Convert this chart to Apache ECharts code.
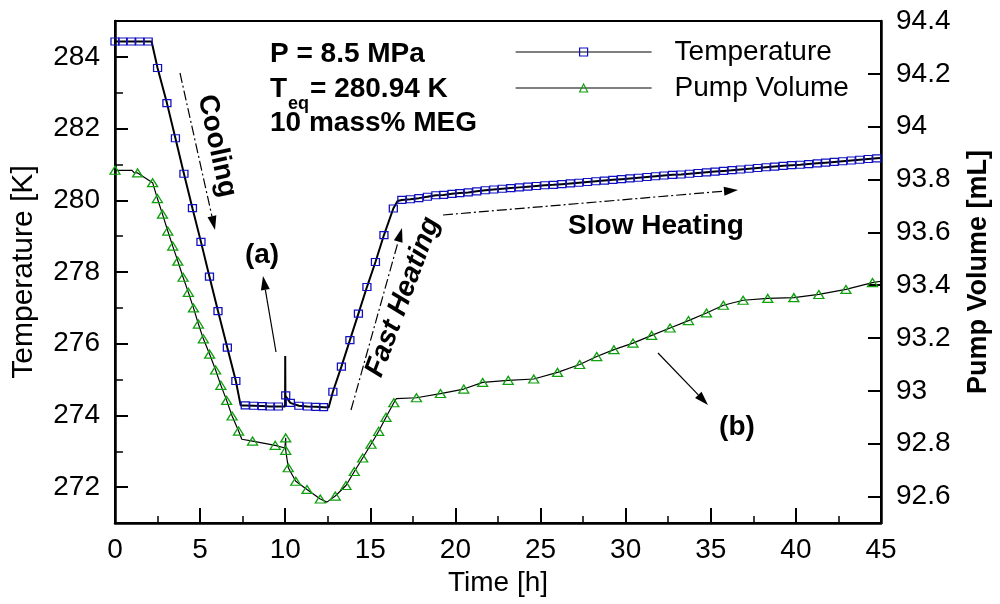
<!DOCTYPE html>
<html><head><meta charset="utf-8">
<script src="https://cdn.jsdelivr.net/npm/echarts@6/dist/echarts.min.js"></script>
<style>html,body{margin:0;padding:0;background:#fff}#c{width:1000px;height:604px}</style>
</head><body><div id="c"></div>
<script>
// ---- Data ----
const xTicks = [0, 5, 10, 15, 20, 25, 30, 35, 40, 45];
const leftTicks = [272, 274, 276, 278, 280, 282, 284];
const leftMinorTicks = [273, 275, 277, 279, 281, 283];
const rightTicks = [92.6, 92.8, 93.0, 93.2, 93.4, 93.6, 93.8, 94.0, 94.2, 94.4];

// Temperature markers (h, K)
const tempTime = [0, 0.45, 0.95, 1.45, 1.95, 2.5, 3.05, 3.55, 4.05, 4.55, 5.05, 5.55, 6.05, 6.6, 7.1,
  7.65, 8.15, 8.65, 9.1, 9.6, 10.03, 10.3, 10.8, 11.3, 11.8, 12.25, 12.8, 13.3, 13.8, 14.3, 14.8,
  15.3, 15.8, 16.35, 16.85, 17.35, 17.85, 18.35, 18.85, 19.3, 19.8, 20.25, 20.75, 21.25,
  21.75, 22.25, 22.75, 23.25, 23.75, 24.25, 24.75, 25.25, 25.75, 26.25, 26.75, 27.25, 27.75,
  28.25, 28.75, 29.25, 29.75, 30.25, 30.75, 31.25, 31.75, 32.25, 32.75, 33.25, 33.75, 34.25,
  34.75, 35.25, 35.75, 36.25, 36.75, 37.25, 37.75, 38.25, 38.75, 39.25, 39.75, 40.25, 40.75,
  41.25, 41.75, 42.25, 42.75, 43.25, 43.75, 44.25, 44.75];
const tempK = [284.43, 284.43, 284.43, 284.43, 284.43, 283.69, 282.71, 281.73, 280.74, 279.78,
  278.84, 277.87, 276.91, 275.89, 274.96, 274.28, 274.27, 274.26, 274.25, 274.25, 274.56, 274.35,
  274.27, 274.25, 274.24, 274.23, 274.66, 275.36, 276.10, 276.84, 277.58, 278.28, 279.03, 279.77,
  280.01, 280.03, 280.06, 280.10, 280.14, 280.15, 280.18, 280.20, 280.22, 280.25,
  280.28, 280.30, 280.32, 280.34, 280.36, 280.38, 280.40, 280.42, 280.43, 280.45, 280.47, 280.49,
  280.51, 280.53, 280.55, 280.57, 280.59, 280.61, 280.63, 280.65, 280.67, 280.69, 280.71, 280.72,
  280.74, 280.76, 280.78, 280.80, 280.82, 280.84, 280.86, 280.88, 280.90, 280.92, 280.94, 280.96,
  280.98, 280.99, 281.01, 281.03, 281.05, 281.07, 281.09, 281.11, 281.13, 281.15, 281.17];
// Temperature line points without markers (knees, spike at t = 10 h, end)
const tempLineTime = [2.15, 7.38, 9.99, 10.0, 10.01, 12.55, 16.6, 45];
const tempLineK = [284.43, 274.28, 274.25, 275.66, 274.55, 274.22, 279.98, 281.18];

// Pump volume markers (h, mL)
const pumpTime = [0, 1.33, 2.21, 2.49, 2.79, 3.1, 3.39, 3.69, 4.0, 4.31, 4.61, 4.9, 5.19, 5.56,
  5.91, 6.22, 6.56, 6.88, 7.26, 8.08, 9.41, 10.03, 10.03, 10.18, 10.62, 11.28, 12.06, 12.94,
  13.57, 14.06, 14.55, 15.04, 15.49, 15.92, 16.38, 17.71, 19.12, 20.49, 21.6, 23.1, 24.6, 26.0,
  27.3, 28.3, 29.31, 30.43, 31.53, 32.61, 33.69, 34.75, 35.74, 36.9, 38.35, 39.88, 41.35, 42.94, 44.5];
const pumpVol = [93.835, 93.825, 93.788, 93.728, 93.669, 93.605, 93.548, 93.491, 93.430, 93.373,
  93.314, 93.253, 93.197, 93.139, 93.079, 93.021, 92.964, 92.905, 92.848, 92.810, 92.794, 92.822,
  92.775, 92.709, 92.658, 92.627, 92.591, 92.602, 92.642, 92.695, 92.746, 92.798, 92.847, 92.900,
  92.955, 92.974, 92.990, 93.007, 93.032, 93.040, 93.045, 93.070, 93.100, 93.130, 93.156, 93.181,
  93.210, 93.238, 93.266, 93.295, 93.324, 93.343, 93.350, 93.353, 93.365, 93.384, 93.410];
const pumpLineTime = [1.0, 1.12, 7.45, 9.98, 12.45, 16.53, 45];
const pumpLineVol = [93.835, 93.826, 92.817, 92.784, 92.579, 92.971, 93.415];

// ---- Build series data ----
function build(mt, mv, lt, lv) {
  const pts = [];
  mt.forEach((t, i) => pts.push({ value: [t, mv[i]] }));
  lt.forEach((t, i) => pts.push({ value: [t, lv[i]], symbol: 'none' }));
  pts.sort((a, b) => a.value[0] - b.value[0]);
  return pts;
}
const tempData = build(tempTime, tempK, tempLineTime, tempLineK);
const pumpData = build(pumpTime, pumpVol, pumpLineTime, pumpLineVol);

const FONT = 'Liberation Sans, Arial, sans-serif';
const FS = 28;

function arrow(x1, y1, x2, y2, dashed) {
  const L = 14, W = 4.5;
  const dx = x2 - x1, dy = y2 - y1, d = Math.hypot(dx, dy), ux = dx / d, uy = dy / d;
  const bx = x2 - ux * L, by = y2 - uy * L;
  return [
    { type: 'line', shape: { x1: x1, y1: y1, x2: bx, y2: by },
      style: { stroke: '#000', lineWidth: 1.2, lineDash: dashed ? [10, 3, 2, 3] : null } },
    { type: 'polygon', shape: { points: [[x2, y2], [bx - uy * W, by + ux * W], [bx + uy * W, by - ux * W]] },
      style: { fill: '#000' } }
  ];
}
function txt(x, y, s, opt) {
  opt = opt || {};
  return { type: 'text', x: x, y: y, rotation: opt.rot || 0, z: 100,
    style: { text: s, fill: '#000', fontFamily: FONT, fontSize: opt.fs || FS, fontWeight: opt.w || 'bold',
      fontStyle: opt.it ? 'italic' : 'normal', align: opt.align || 'center', verticalAlign: 'middle' } };
}

const chart = echarts.init(document.getElementById('c'));
chart.setOption({
  animation: false,
  backgroundColor: '#fff',
  grid: { left: 115, right: 119, top: 21, bottom: 81, show: true, borderColor: '#000', borderWidth: 2 },
  legend: {
    left: 515, top: 37, orient: 'vertical', padding: 0,
    itemWidth: 136, itemHeight: 10, itemGap: 6,
    lineStyle: { width: 1.2 },
    itemStyle: { borderWidth: 1.2 },
    textStyle: { fontFamily: FONT, fontSize: FS, color: '#000', lineHeight: 30, padding: [0, 0, 0, 18] },
    data: ['Temperature', 'Pump Volume']
  },
  xAxis: {
    type: 'value', min: 0, max: 45, interval: 5,
    name: 'Time [h]', nameLocation: 'middle', nameGap: 40,
    nameTextStyle: { fontFamily: FONT, fontSize: FS, color: '#000' },
    axisLine: { lineStyle: { color: '#000', width: 2.5 } },
    axisTick: { inside: true, length: 15, lineStyle: { color: '#000', width: 2 } },
    minorTick: { show: true, splitNumber: 2, length: 7, lineStyle: { color: '#000', width: 1.5 } },
    axisLabel: { fontFamily: FONT, fontSize: FS, color: '#000', margin: 13 },
    splitLine: { show: false }
  },
  yAxis: [
    {
      type: 'value', position: 'left', min: 271, max: 285,
      name: 'Temperature [K]', nameLocation: 'middle', nameGap: 76, nameRotate: 90,
      nameTextStyle: { fontFamily: FONT, fontSize: 30, color: '#000' },
      axisLine: { show: true, lineStyle: { color: '#000', width: 2.5 } },
      axisTick: { inside: true, length: 13, customValues: leftTicks, lineStyle: { color: '#000', width: 2 } },
      axisLabel: { customValues: leftTicks, fontFamily: FONT, fontSize: FS, color: '#000', margin: 15 },
      splitLine: { show: false }
    },
    {
      type: 'value', position: 'right', min: 92.5, max: 94.4,
      name: 'Pump Volume [mL]', nameLocation: 'middle', nameGap: 84, nameRotate: 90,
      nameTextStyle: { fontFamily: FONT, fontSize: 27, fontWeight: 'bold', color: '#000' },
      axisLine: { show: true, lineStyle: { color: '#000', width: 2.5 } },
      axisTick: { inside: true, length: 13, customValues: rightTicks, lineStyle: { color: '#000', width: 2 } },
      axisLabel: { customValues: rightTicks, fontFamily: FONT, fontSize: FS, color: '#000', margin: 15,
        formatter: v => String(Number(v.toFixed(1))) },
      splitLine: { show: false }
    },
    {
      type: 'value', position: 'left', min: 271, max: 285,
      axisLine: { show: false },
      axisTick: { show: true, inside: true, length: 8, customValues: leftMinorTicks, lineStyle: { color: '#000', width: 1.5 } },
      axisLabel: { show: false },
      splitLine: { show: false }
    }
  ],
  series: [
    {
      name: 'Temperature', type: 'line', yAxisIndex: 0, data: tempData,
      symbol: 'rect', symbolSize: [8, 7], showSymbol: true, showAllSymbol: true,
      lineStyle: { color: '#000', width: 2 },
      itemStyle: { color: 'transparent', borderColor: '#1010c0', borderWidth: 1.2 },
      emphasis: { disabled: true }, z: 3
    },
    {
      name: 'Pump Volume', type: 'line', yAxisIndex: 1, data: pumpData,
      symbol: 'triangle', symbolSize: [10, 8], showSymbol: true, showAllSymbol: true,
      lineStyle: { color: '#000', width: 1.2 },
      itemStyle: { color: 'transparent', borderColor: '#10a010', borderWidth: 1.3 },
      emphasis: { disabled: true }, z: 2
    }
  ],
  graphic: [
    txt(270, 54, 'P = 8.5 MPa', { align: 'left' }),
    txt(270, 89, 'T', { align: 'left' }),
    txt(288, 104, 'eq', { align: 'left', fs: 18 }),
    txt(310, 89, '= 280.94 K', { align: 'left' }),
    txt(270, 123, '10 mass% MEG', { align: 'left' }),
    txt(217, 146, 'Cooling', { rot: -1.36 }),
    txt(262, 255, '(a)'),
    txt(403, 297, 'Fast Heating', { rot: 1.215, it: true }),
    txt(656, 226, 'Slow Heating'),
    txt(737, 427, '(b)'),
    ...arrow(180, 73, 215, 230, true),
    ...arrow(276, 352, 263, 276, false),
    ...arrow(351, 410, 402, 228, true),
    ...arrow(443, 215, 738, 190, true),
    ...arrow(658, 353, 708, 405, false)
  ]
});
</script>
</body></html>
